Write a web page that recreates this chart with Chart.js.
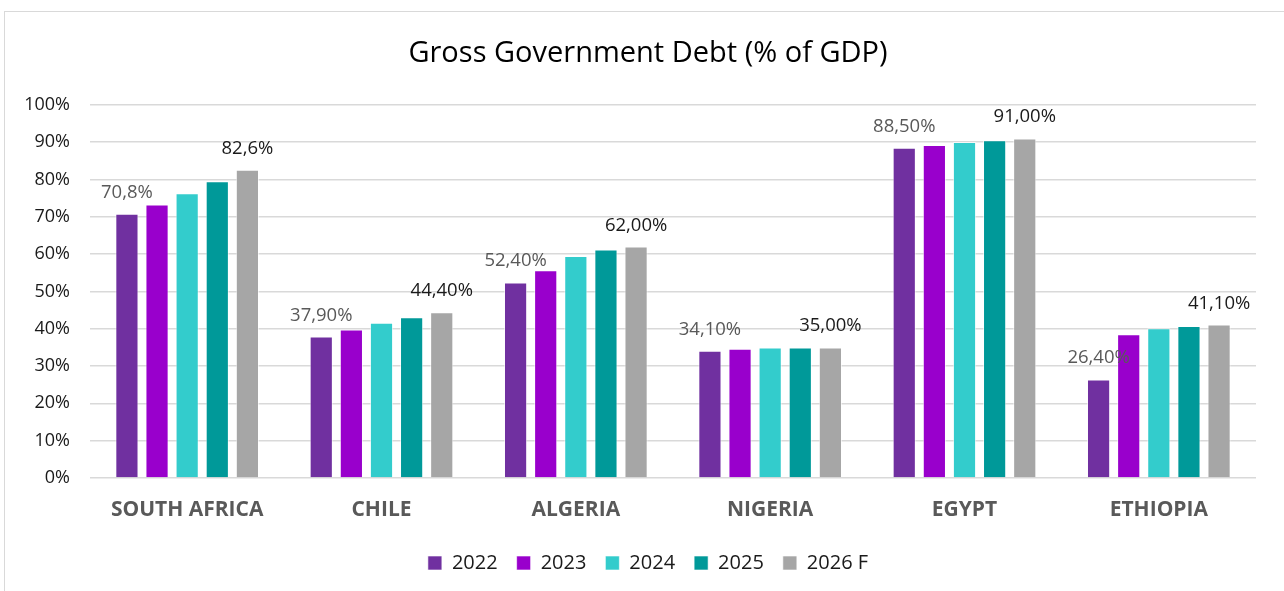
<!DOCTYPE html>
<html>
<head>
<meta charset="utf-8">
<script src="https://cdn.jsdelivr.net/npm/chart.js@4"></script>
<style>
  html, body { margin: 0; padding: 0; background: #fff; }
  body { width: 1284px; height: 591px; position: relative; overflow: hidden; }
  .frame { position: absolute; left: 4px; top: 11px; width: 1300px; height: 620px; border: 1px solid #d9d9d9; box-sizing: border-box; }
  .wrap { position: absolute; left: 0; top: 0; width: 1284px; height: 591px; }
</style>
</head>
<body>
<div class="frame"></div>
<div class="wrap"><canvas id="debtChart" width="1284" height="591"></canvas></div>
<script>
const countries = ['SOUTH AFRICA', 'CHILE', 'ALGERIA', 'NIGERIA', 'EGYPT', 'ETHIOPIA'];
const years = ['2022', '2023', '2024', '2025', '2026 F'];
const debt2022 = [70.8, 37.9, 52.4, 34.1, 88.5, 26.4];
const debt2023 = [73.3, 39.8, 55.7, 34.6, 89.2, 38.5];
const debt2024 = [76.3, 41.6, 59.5, 35.0, 90.0, 40.1];
const debt2025 = [79.5, 43.1, 61.2, 35.0, 90.5, 40.7];
const debt2026 = [82.6, 44.4, 62.0, 35.0, 91.0, 41.1];
const labelDecimals = [1, 2, 2, 2, 2, 2];
const yTicks = [0, 10, 20, 30, 40, 50, 60, 70, 80, 90, 100];
const colors = ['#7030a0', '#9900cc', '#33cccc', '#009999', '#a6a6a6'];

const series = [debt2022, debt2023, debt2024, debt2025, debt2026];
const FONT = "'Open Sans', 'Noto Sans', sans-serif";

function fmt(v, d) {
  return v.toFixed(d).replace('.', ',') + '%';
}

// value labels above the first and last bar of each country
const endLabels = {
  id: 'endLabels',
  afterDatasetsDraw(chart) {
    const ctx = chart.ctx;
    ctx.save();
    ctx.font = '18.5px ' + FONT;
    ctx.textAlign = 'center';
    ctx.textBaseline = 'alphabetic';
    [[0, '#595959'], [4, '#1a1a1a']].forEach(([di, col]) => {
      const meta = chart.getDatasetMeta(di);
      ctx.fillStyle = col;
      meta.data.forEach((bar, i) => {
        const v = chart.data.datasets[di].data[i];
        ctx.fillText(fmt(v, labelDecimals[i]), bar.x, bar.y - 16);
      });
    });
    ctx.restore();
  }
};

// title and legend sit centred on the whole frame, not the plot
const centreHeader = {
  id: 'centreHeader',
  afterLayout(chart) {
    [chart.titleBlock, chart.legend].forEach(b => {
      if (!b) return;
      b.left += 20;
      b.right += 20;
    });
  }
};

new Chart(document.getElementById('debtChart'), {
  type: 'bar',
  data: {
    labels: countries,
    datasets: series.map((vals, i) => ({
      label: years[i],
      data: vals,
      backgroundColor: colors[i],
      borderColor: 'rgba(255,255,255,0.6)',
      borderWidth: 1,
      categoryPercentage: 0.775,
      barPercentage: 0.77
    }))
  },
  options: {
    responsive: false,
    animation: false,
    devicePixelRatio: 1,
    layout: { padding: { top: 36, right: 28, left: 0, bottom: 8 } },
    plugins: {
      title: {
        display: true,
        text: 'Gross Government Debt (% of GDP)',
        color: '#000',
        font: { family: FONT, size: 29, weight: 'normal' },
        padding: { top: 0, bottom: 34 }
      },
      legend: {
        position: 'bottom',
        labels: {
          boxWidth: 14,
          boxHeight: 14,
          padding: 19,
          color: '#1a1a1a',
          font: { family: FONT, size: 20 }
        }
      },
      tooltip: { enabled: false }
    },
    scales: {
      x: {
        grid: { display: false },
        border: { display: false },
        ticks: {
          color: '#595959',
          padding: 11,
          font: { family: FONT, size: 21, weight: 'bold' }
        },
        afterFit(s) { s.height = 56; }
      },
      y: {
        min: 0,
        max: 100,
        afterBuildTicks(s) { s.ticks = yTicks.map(v => ({ value: v })); },
        grid: { color: '#d9d9d9', lineWidth: 1.5, drawTicks: false },
        border: { display: false },
        ticks: {
          color: '#1a1a1a',
          padding: 20,
          font: { family: FONT, size: 18 },
          callback: v => v + '%'
        },
        afterFit(s) { s.width = 90; }
      }
    }
  },
  plugins: [endLabels, centreHeader]
});
</script>
</body>
</html>
